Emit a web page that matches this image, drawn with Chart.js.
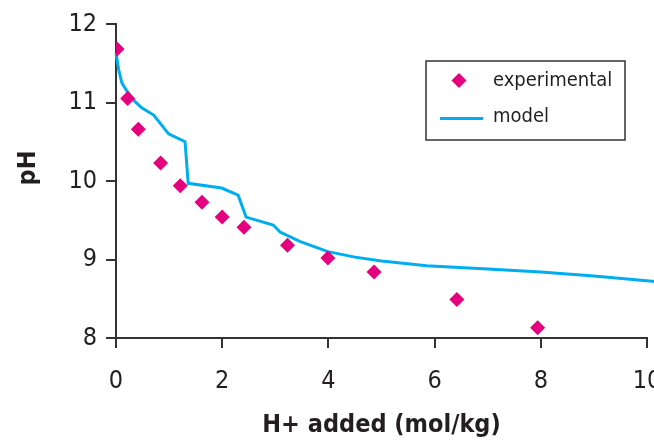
<!DOCTYPE html>
<html>
<head>
<meta charset="utf-8">
<script src="https://cdn.jsdelivr.net/npm/chart.js@4.4.1/dist/chart.umd.min.js"></script>
<style>
  html, body { margin: 0; padding: 0; background: #fff; overflow: hidden; }
  #wrap { width: 680px; height: 444px; }
</style>
</head>
<body>
<div id="wrap"><canvas id="c" width="680" height="444"></canvas></div>
<script>
// Titration data: H+ added (mol/kg) vs pH
const expAdded = [0.02, 0.22, 0.42, 0.84, 1.21, 1.62, 2.0, 2.41, 3.23, 3.99, 4.86, 6.42, 7.94];
const expPH    = [11.68, 11.05, 10.66, 10.23, 9.94, 9.73, 9.54, 9.41, 9.18, 9.02, 8.84, 8.49, 8.13];

const modelAdded = [0, 0.05, 0.11, 0.20, 0.36, 0.49, 0.71, 0.99, 1.30, 1.36, 1.99, 2.30, 2.45, 2.96, 3.09, 3.46, 3.99, 4.5, 5.0, 5.85, 7.0, 8.0, 9.0, 10.15];
const modelPH    = [11.63, 11.42, 11.25, 11.15, 11.01, 10.93, 10.84, 10.60, 10.50, 9.97, 9.91, 9.82, 9.54, 9.44, 9.35, 9.23, 9.10, 9.03, 8.98, 8.92, 8.88, 8.84, 8.79, 8.72];

const xTicks = [0, 2, 4, 6, 8, 10];
const yTicks = [8, 9, 10, 11, 12];

const xTitle = 'H+ added (mol/kg)';
const yTitle = 'pH';

const FONT = "'Liberation Sans Narrow', 'DejaVu Sans Condensed', 'Liberation Sans', sans-serif";
const INK = '#231f20';
const PINK = '#e5007d';
const CYAN = '#00aeef';

const toPoints = (xs, ys) => xs.map((x, i) => ({ x: x, y: ys[i] }));

// Boxed legend inside the plot area, plus the rotated y-axis title
const annotations = {
  id: 'annotations',
  afterDraw(chart) {
    const ctx = chart.ctx;
    const ds = chart.data.datasets;
    ctx.save();

    // y-axis title
    ctx.save();
    ctx.translate(28, 168);
    ctx.rotate(-Math.PI / 2);
    ctx.font = 'bold 25px ' + FONT;
    ctx.fillStyle = INK;
    ctx.textAlign = 'center';
    ctx.textBaseline = 'middle';
    ctx.fillText(yTitle, 0, 0);
    ctx.restore();

    // legend box
    const left = 426, top = 61, right = 625, bottom = 140;
    ctx.strokeStyle = '#333';
    ctx.lineWidth = 1.5;
    ctx.strokeRect(left, top, right - left, bottom - top);
    ctx.font = '20px ' + FONT;
    ctx.textBaseline = 'middle';
    ctx.textAlign = 'left';
    const y1 = 80.5, y2 = 116.5;

    // marker entry
    ctx.fillStyle = PINK;
    ctx.beginPath();
    ctx.moveTo(459 - 7.5, y1); ctx.lineTo(459, y1 - 7.5); ctx.lineTo(459 + 7.5, y1); ctx.lineTo(459, y1 + 7.5);
    ctx.closePath();
    ctx.fill();
    ctx.fillStyle = INK;
    ctx.fillText(ds[0].label, 493, y1);

    // line entry
    ctx.strokeStyle = CYAN;
    ctx.lineWidth = 3;
    ctx.beginPath(); ctx.moveTo(440, y2 + 2); ctx.lineTo(483, y2 + 2); ctx.stroke();
    ctx.fillText(ds[1].label, 493, y2);
    ctx.restore();
  }
};

new Chart(document.getElementById('c'), {
  type: 'scatter',
  data: {
    datasets: [
      {
        label: 'experimental',
        data: toPoints(expAdded, expPH),
        pointStyle: 'rectRot',
        pointRadius: 7.5,
        pointBackgroundColor: PINK,
        pointBorderColor: PINK,
        pointBorderWidth: 0,
        showLine: false,
        order: 0
      },
      {
        label: 'model',
        data: toPoints(modelAdded, modelPH),
        showLine: true,
        borderColor: CYAN,
        borderWidth: 3,
        pointRadius: 0,
        tension: 0,
        fill: false,
        clip: { left: 5, top: 5, right: 20, bottom: 5 },
        order: 1
      }
    ]
  },
  options: {
    responsive: false,
    animation: false,
    layout: { padding: { left: 4, top: 21, right: 33, bottom: 0 } },
    plugins: { legend: { display: false }, tooltip: { enabled: false } },
    scales: {
      x: {
        type: 'linear',
        min: 0, max: 10,
        afterBuildTicks: s => { s.ticks = xTicks.map(v => ({ value: v })); },
        afterFit: s => { s.height = 106; },
        ticks: { color: INK, font: { family: FONT, size: 25 }, padding: 18 },
        grid: { drawOnChartArea: false, drawTicks: true, tickLength: 10, color: '#333', lineWidth: 2 },
        border: { display: true, color: '#333', width: 2 },
        title: { display: true, text: xTitle, color: INK, font: { family: FONT, size: 25, weight: 'bold' }, padding: { top: 0, bottom: 4 } }
      },
      y: {
        type: 'linear',
        min: 8, max: 12,
        afterBuildTicks: s => { s.ticks = yTicks.map(v => ({ value: v })); },
        afterFit: s => { s.width = 112; },
        ticks: { color: INK, font: { family: FONT, size: 25 }, padding: 9 },
        grid: { drawOnChartArea: false, drawTicks: true, tickLength: 10, color: '#333', lineWidth: 2 },
        border: { display: true, color: '#333', width: 2 },
        title: { display: false }
      }
    }
  },
  plugins: [annotations]
});
</script>
</body>
</html>
